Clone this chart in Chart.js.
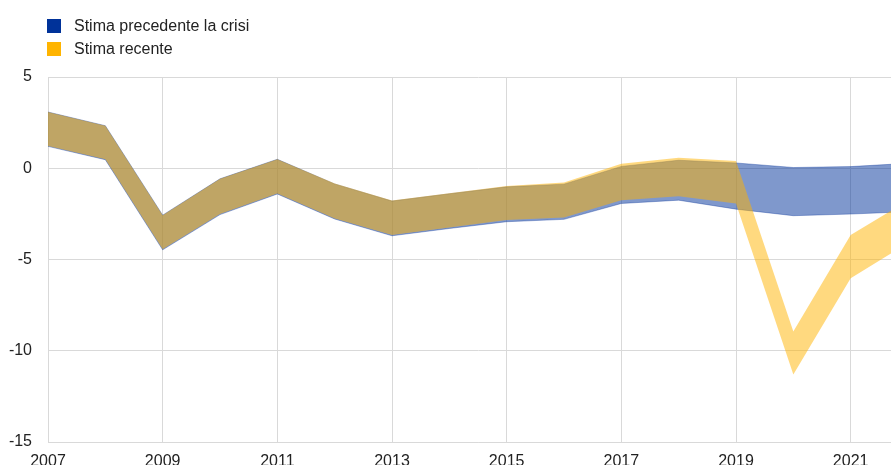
<!DOCTYPE html>
<html lang="it">
<head>
<meta charset="utf-8">
<title>Stima precedente la crisi / Stima recente</title>
<script src="https://cdn.jsdelivr.net/npm/chart.js@4"></script>
<style>
    html, body { margin: 0; padding: 0; background: #fff; overflow: hidden; }
    body { width: 891px; height: 465px; position: relative; font-family: "Liberation Sans", Arial, sans-serif; }
    #chart-wrap { position: absolute; left: 0; top: 0; width: 908px; height: 471px; }
    .legend { position: absolute; left: 47px; top: 14px; font-size: 16px; color: #222; }
    .legend-item { display: flex; align-items: center; height: 23px; }
    .legend-box { width: 14px; height: 14px; margin-right: 13px; }
</style>
</head>
<body>
<div id="chart-wrap"><canvas id="gap-chart" width="908" height="471"></canvas></div>
<div class="legend">
    <div class="legend-item"><span class="legend-box" style="background:#003299"></span>Stima precedente la crisi</div>
    <div class="legend-item"><span class="legend-box" style="background:#ffb400"></span>Stima recente</div>
</div>
<script>
// anni (asse x)
const years = [2007, 2008, 2009, 2010, 2011, 2012, 2013, 2014, 2015, 2016, 2017, 2018, 2019, 2020, 2021, 2022];

// stima precedente la crisi: limite superiore / inferiore
const bluHigh = [3.08, 2.33, -2.57, -0.58, 0.49, -0.86, -1.80, -1.40, -1.02, -0.87, 0.10, 0.44, 0.29, 0.04, 0.09, 0.27];
const bluLow  = [1.20, 0.47, -4.47, -2.54, -1.41, -2.78, -3.70, -3.30, -2.93, -2.80, -1.93, -1.75, -2.24, -2.60, -2.51, -2.38];

// stima recente: limite superiore / inferiore
const gialloHigh = [3.08, 2.33, -2.57, -0.58, 0.49, -0.84, -1.77, -1.37, -0.97, -0.78, 0.24, 0.58, 0.40, -8.95, -3.66, -1.77];
const gialloLow  = [1.22, 0.49, -4.44, -2.51, -1.38, -2.75, -3.66, -3.24, -2.84, -2.70, -1.75, -1.53, -1.93, -11.30, -6.03, -4.10];

// etichette asse x e tacche asse y
const xTicks = [2007, 2009, 2011, 2013, 2015, 2017, 2019, 2021];
const yTicks = [-15, -10, -5, 0, 5];

const gridColor = '#d9d9d9';
const tickFont = { family: '"Liberation Sans", Arial, sans-serif', size: 16 };

function toPoints(values) {
    return years.map((y, i) => ({ x: y, y: values[i] }));
}

// i dataset con indice più basso vengono disegnati sopra: giallo prima, blu dopo
const datasets = [
    {
        label: 'Stima recente',
        data: toPoints(gialloHigh),
        borderWidth: 0,
        borderColor: 'rgba(255, 180, 0, 0)',
        backgroundColor: 'rgba(255, 180, 0, 0.5)',
        fill: '+1',
        pointRadius: 0
    },
    {
        label: 'Stima recente (min)',
        data: toPoints(gialloLow),
        borderWidth: 0,
        borderColor: 'rgba(255, 180, 0, 0)',
        fill: false,
        pointRadius: 0
    },
    {
        label: 'Stima precedente la crisi',
        data: toPoints(bluHigh),
        borderWidth: 1,
        borderColor: 'rgba(0, 50, 153, 0.35)',
        backgroundColor: 'rgba(0, 50, 153, 0.5)',
        fill: '+1',
        pointRadius: 0
    },
    {
        label: 'Stima precedente la crisi (min)',
        data: toPoints(bluLow),
        borderWidth: 1,
        borderColor: 'rgba(0, 50, 153, 0.35)',
        fill: false,
        pointRadius: 0
    }
];

const ctx = document.getElementById('gap-chart').getContext('2d');

new Chart(ctx, {
    type: 'line',
    data: { datasets: datasets },
    options: {
        responsive: false,
        animation: false,
        devicePixelRatio: 1,
        layout: { padding: { top: 77, left: 0, right: 0, bottom: 0 } },
        elements: { line: { tension: 0 } },
        plugins: {
            legend: { display: false },
            tooltip: { enabled: false },
            filler: { propagate: false }
        },
        scales: {
            x: {
                type: 'linear',
                min: years[0],
                max: years[years.length - 1],
                afterBuildTicks: (scale) => { scale.ticks = xTicks.map(v => ({ value: v })); },
                afterFit: (scale) => { scale.height = 29; },
                grid: { color: gridColor, lineWidth: 1, drawTicks: false },
                border: { color: gridColor },
                ticks: {
                    padding: 10,
                    color: '#222',
                    font: tickFont,
                    callback: (v) => String(v),
                    maxRotation: 0,
                    autoSkip: false
                }
            },
            y: {
                min: yTicks[0],
                max: yTicks[yTicks.length - 1],
                afterFit: (scale) => { scale.width = 48; },
                afterBuildTicks: (scale) => { scale.ticks = yTicks.map(v => ({ value: v })); },
                grid: { color: gridColor, lineWidth: 1, drawTicks: false },
                border: { color: gridColor },
                ticks: {
                    padding: 16,
                    color: '#222',
                    font: tickFont
                }
            }
        }
    }
});
</script>
</body>
</html>
